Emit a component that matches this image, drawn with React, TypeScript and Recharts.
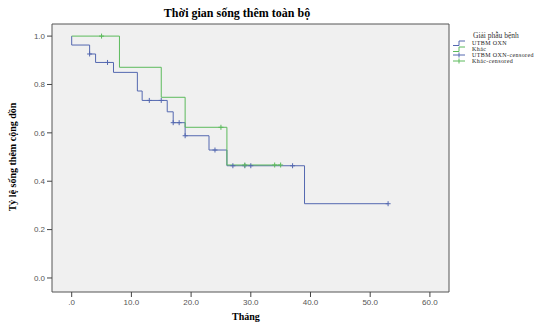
import { ComposedChart, Line, Scatter, XAxis, YAxis, ReferenceArea } from "recharts"

// Kaplan-Meier steps: event times (tháng) and cumulative survival
const utbmTimes = [0, 0, 3, 4, 7, 11, 11.8, 16, 17, 19, 23, 26, 39, 53]
const utbmSurv = [1.0, 0.963, 0.926, 0.891, 0.85, 0.773, 0.734, 0.687, 0.642, 0.588, 0.529, 0.464, 0.307, 0.307]
const utbmCensorTimes = [3, 6, 13, 15, 17, 18, 19, 24, 27, 29, 30, 37, 53]
const utbmCensorSurv = [0.926, 0.891, 0.734, 0.734, 0.642, 0.642, 0.588, 0.529, 0.464, 0.464, 0.464, 0.464, 0.307]

const khacTimes = [0, 8, 15, 19, 26, 35]
const khacSurv = [1.0, 0.871, 0.747, 0.623, 0.467, 0.467]
const khacCensorTimes = [5, 25, 29, 34, 35]
const khacCensorSurv = [1.0, 0.623, 0.467, 0.467, 0.467]

const xTicks = [0, 10, 20, 30, 40, 50, 60]
const yTicks = [0, 0.2, 0.4, 0.6, 0.8, 1.0]

const legendItems = ["UTBM OXN", "Khác", "UTBM OXN-censored", "Khác-censored"]

const BLUE = "#5468b0"
const GREEN = "#5cba5c"

const zip = (t: number[], s: number[]) => t.map((v, i) => ({ t: v, s: s[i] }))

const utbmData = zip(utbmTimes, utbmSurv)
const utbmCensor = zip(utbmCensorTimes, utbmCensorSurv)
const khacData = zip(khacTimes, khacSurv)
const khacCensor = zip(khacCensorTimes, khacCensorSurv)

function censorShape(color: string) {
  return (props: any) => {
    const { cx, cy } = props
    return <path d={`M${cx - 2.5},${cy}h5M${cx},${cy - 2.5}v5`} stroke={color} strokeWidth={1} fill="none" />
  }
}

const tickStyle = { fontSize: 8, fill: "#555", fontFamily: "Liberation Sans, Arial, sans-serif" }

function LegendIcon({ color, censored }: { color: string; censored: boolean }) {
  return (
    <svg width={14} height={6} style={{ display: "block" }}>
      {censored ? (
        <path d="M1,3h12M7,0.5v5" stroke={color} strokeWidth={1} fill="none" />
      ) : (
        <path d="M1,5.5h6v-4.5h6" stroke={color} strokeWidth={1} fill="none" />
      )}
    </svg>
  )
}

export default function App() {
  return (
    <div
      style={{
        position: "absolute",
        left: 0,
        top: 0,
        width: 557,
        height: 327,
        background: "#fff",
        overflow: "hidden",
        fontFamily: "Liberation Serif, serif",
      }}
    >
      <div
        style={{
          position: "absolute",
          left: 0,
          width: 474,
          top: 6,
          textAlign: "center",
          fontWeight: "bold",
          fontSize: 12,
        }}
      >
        Thời gian sống thêm toàn bộ
      </div>

      <ComposedChart width={557} height={327} margin={{ top: 24, right: 108, left: 0, bottom: 0 }}>
        <XAxis
          dataKey="t"
          type="number"
          domain={[-3.3, 63.2]}
          allowDataOverflow
          ticks={xTicks}
          tickFormatter={(v: number) => (v === 0 ? ".0" : v.toFixed(1))}
          tick={tickStyle}
          tickSize={5}
          tickLine={{ stroke: "#444" }}
          axisLine={false}
          height={35}
          interval={0}
        />
        <YAxis
          dataKey="s"
          type="number"
          domain={[-0.058, 1.05]}
          allowDataOverflow
          ticks={yTicks}
          tickFormatter={(v: number) => v.toFixed(1)}
          tick={tickStyle}
          tickSize={5}
          tickLine={{ stroke: "#444" }}
          axisLine={false}
          width={52}
          interval={0}
        />
        <ReferenceArea
          x1={-3.3}
          x2={63.2}
          y1={-0.058}
          y2={1.05}
          fill="#f0f0f0"
          fillOpacity={1}
          stroke="#555"
          strokeWidth={1}
        />
        <Line
          data={utbmData}
          dataKey="s"
          type="stepAfter"
          stroke={BLUE}
          strokeWidth={1}
          dot={false}
          isAnimationActive={false}
        />
        <Line
          data={khacData}
          dataKey="s"
          type="stepAfter"
          stroke={GREEN}
          strokeWidth={1}
          dot={false}
          isAnimationActive={false}
        />
        <Scatter data={utbmCensor} shape={censorShape(BLUE)} isAnimationActive={false} />
        <Scatter data={khacCensor} shape={censorShape(GREEN)} isAnimationActive={false} />
      </ComposedChart>

      <div
        style={{
          position: "absolute",
          left: 12,
          top: 157,
          transform: "translate(-50%, -50%) rotate(-90deg)",
          whiteSpace: "nowrap",
          fontWeight: "bold",
          fontSize: 10,
        }}
      >
        Tỷ lệ sống thêm cộng dồn
      </div>

      <div
        style={{
          position: "absolute",
          left: 232,
          top: 311,
          fontWeight: "bold",
          fontSize: 10,
        }}
      >
        Tháng
      </div>

      <div style={{ position: "absolute", left: 452, top: 32, whiteSpace: "nowrap" }}>
        <div style={{ paddingLeft: 21, fontSize: 7.5, lineHeight: "8px", height: 8, color: "#333" }}>Giải phẫu bệnh</div>
        {legendItems.map((name, i) => (
          <div
            key={name}
            style={{ display: "flex", alignItems: "center", height: 6, lineHeight: "6px", color: "#222" }}
          >
            <LegendIcon color={i % 2 === 0 ? BLUE : GREEN} censored={i >= 2} />
            <span style={{ marginLeft: 6, fontSize: 6, letterSpacing: 0.4 }}>{name}</span>
          </div>
        ))}
      </div>
    </div>
  )
}
